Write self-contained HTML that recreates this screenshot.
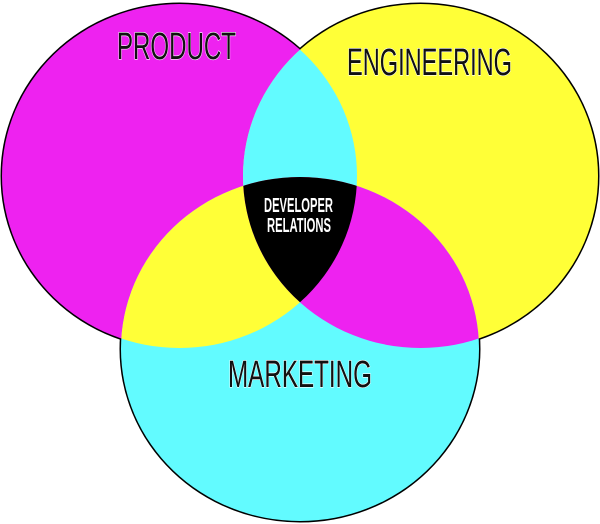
<!DOCTYPE html>
<html><head><meta charset="utf-8"><style>html,body{margin:0;padding:0;background:#fff}svg{display:block}</style></head>
<body>
<svg width="600" height="524" viewBox="0 0 600 524" xmlns="http://www.w3.org/2000/svg">
<defs>
<clipPath id="cp"><ellipse cx="179.5" cy="176" rx="177.5" ry="172"/></clipPath>
<clipPath id="ce"><ellipse cx="420.5" cy="176" rx="177.5" ry="172"/></clipPath>
<clipPath id="cpe" clip-path="url(#cp)"><ellipse cx="420.5" cy="176" rx="177.5" ry="172"/></clipPath>
</defs>
<g fill="#000" stroke="#000" stroke-width="3">
<ellipse cx="179.5" cy="176" rx="177.5" ry="172"/>
<ellipse cx="420.5" cy="176" rx="177.5" ry="172"/>
<ellipse cx="300" cy="349" rx="179" ry="172"/>
</g>
<ellipse cx="179.5" cy="176" rx="177.5" ry="172" fill="#ee22f0"/>
<ellipse cx="420.5" cy="176" rx="177.5" ry="172" fill="#ffff37"/>
<ellipse cx="300" cy="349" rx="179" ry="172" fill="#62fbff"/>
<ellipse cx="420.5" cy="176" rx="177.5" ry="172" fill="#62fbff" clip-path="url(#cp)"/>
<ellipse cx="300" cy="349" rx="179" ry="172" fill="#ffff37" clip-path="url(#cp)"/>
<ellipse cx="300" cy="349" rx="179" ry="172" fill="#ee22f0" clip-path="url(#ce)"/>
<ellipse cx="300" cy="349" rx="179" ry="172" fill="#000" clip-path="url(#cpe)"/>
<g font-family="'Liberation Sans Narrow','Liberation Sans',sans-serif" fill="#111" stroke="#fff" stroke-width="1.2" paint-order="stroke" font-size="38">
<text x="117" y="59" textLength="119" lengthAdjust="spacingAndGlyphs">PRODUCT</text>
<text x="347" y="75" textLength="165" lengthAdjust="spacingAndGlyphs">ENGINEERING</text>
<text x="228" y="387" textLength="144" lengthAdjust="spacingAndGlyphs">MARKETING</text>
</g>
<g font-family="'Liberation Sans Narrow','Liberation Sans',sans-serif" fill="#fff" font-weight="bold" font-size="20">
<text x="264" y="212" textLength="69" lengthAdjust="spacingAndGlyphs">DEVELOPER</text>
<text x="267" y="232" textLength="64" lengthAdjust="spacingAndGlyphs">RELATIONS</text>
</g>
</svg>
</body></html>
